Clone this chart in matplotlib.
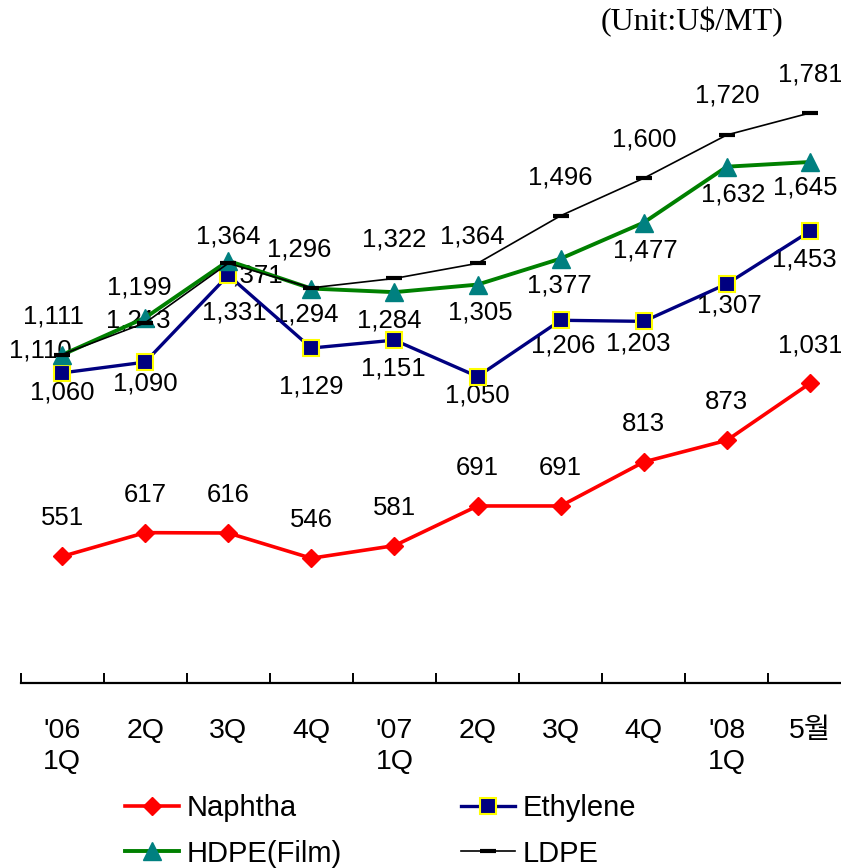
import matplotlib
matplotlib.use("Agg")
import matplotlib.pyplot as plt
import numpy as np

plt.rcParams['font.family'] = ['Liberation Sans', 'Noto Sans CJK KR', 'DejaVu Sans']

# data (U$/MT)
periods = ["'06\n1Q", "2Q", "3Q", "4Q", "'07\n1Q", "2Q", "3Q", "4Q", "'08\n1Q", "5월"]
naphtha = [551, 617, 616, 546, 581, 691, 691, 813, 873, 1031]
ethylene = [1060, 1090, 1331, 1129, 1151, 1050, 1206, 1203, 1307, 1453]
hdpe = [1110, 1213, 1371, 1294, 1284, 1305, 1377, 1477, 1632, 1645]
ldpe = [1111, 1199, 1364, 1296, 1322, 1364, 1496, 1600, 1720, 1781]

# label placement (pixels from the point)
off_naphtha = [(0, 38)] * 10
off_ethylene = [(0, -20), (0, -21), (6, -37), (0, -38), (-1, -28),
                (0, -19), (3, -25), (-5, -22), (2, -22), (-6, -28)]
off_hdpe = [(-22, 4), (-7, -3), (22, -15), (-5, -26), (-5, -28),
            (3, -28), (-1, -27), (2, -28), (6, -28), (-5, -26)]
off_ldpe = [(-9, 38), (-6, 35), (0, 27), (-12, 38), (0, 39),
            (-5, 27), (0, 38), (0, 39), (0, 39), (0, 38)]

W, H = 841, 868
fig = plt.figure(figsize=(W / 100, H / 100), dpi=100)
ax = fig.add_axes([20.5 / W, 1 - 683 / H, 831 / W, (683 - 34) / H])

x = np.arange(len(periods))

l_n, = ax.plot(x, naphtha, color='#FF0000', lw=2.6, marker='D', ms=9,
               mfc='#FF0000', mec='#FF0000', label='Naphtha', zorder=3)
l_e, = ax.plot(x, ethylene, color='#000080', lw=2.4, marker='s', ms=11,
               mfc='#000080', mec='#FFFF00', mew=1.5, label='Ethylene', zorder=3)
l_h, = ax.plot(x, hdpe, color='#008000', lw=2.8, marker='^', ms=13,
               mfc='#008080', mec='#008080', label='HDPE(Film)', zorder=3)
l_l, = ax.plot(x, ldpe, color='black', lw=1.2, marker='_', ms=11, mew=3,
               label='LDPE', zorder=4)

for vals, offs in [(naphtha, off_naphtha), (ethylene, off_ethylene),
                   (hdpe, off_hdpe), (ldpe, off_ldpe)]:
    for i, v in enumerate(vals):
        ax.annotate(f"{v:,}", (x[i], v), xytext=offs[i], textcoords='offset pixels',
                    ha='center', va='center', fontsize=18.5, zorder=2)

ax.set_xlim(-0.5, len(periods) - 0.5)
ax.set_ylim(200, 2000)
ax.set_yticks([])
for s in ['top', 'right', 'left']:
    ax.spines[s].set_visible(False)
ax.spines['bottom'].set_linewidth(1.6)

ax.set_xticks(x)
ax.set_xticklabels(periods, fontsize=20.5, linespacing=1.25)
ax.set_xticks(np.arange(len(periods)) - 0.5, minor=True)
ax.tick_params(axis='x', which='major', length=0, pad=25)
ax.tick_params(axis='x', which='minor', direction='in', length=7, width=1.4)

fig.text(783 / W, 1 - 22 / H, "(Unit:U$/MT)", ha='right', va='center',
         fontsize=23, family='Liberation Serif')

fig.legend([l_n, l_h, l_e, l_l], ['Naphtha', 'HDPE(Film)', 'Ethylene', 'LDPE'],
           ncol=2, loc='upper left', bbox_to_anchor=(125 / W, 1 - 794 / H),
           frameon=False, fontsize=21, handlelength=1.85, handletextpad=0.25,
           columnspacing=4.1, labelspacing=0.6, borderpad=0, borderaxespad=0,
           numpoints=1)

fig.savefig('out.png', dpi=100)
